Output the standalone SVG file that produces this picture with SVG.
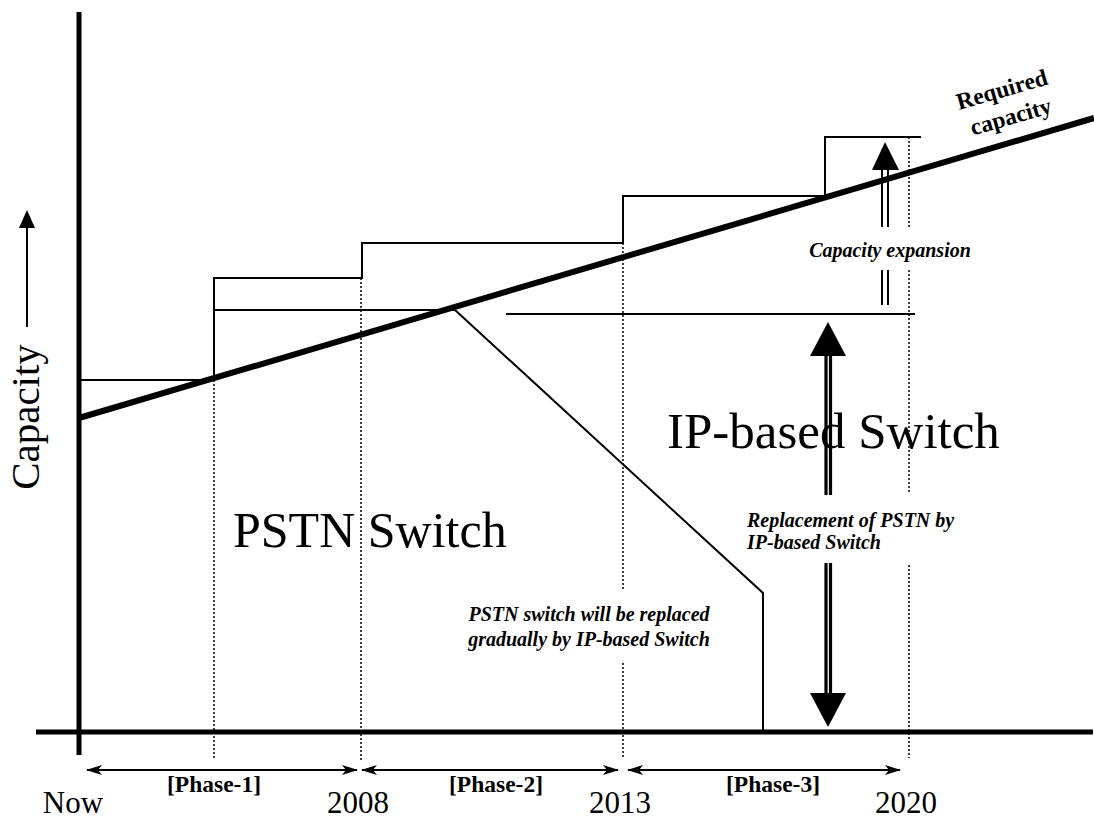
<svg xmlns="http://www.w3.org/2000/svg" width="1094" height="821" viewBox="0 0 1094 821">
<style>
.ax{stroke:#000;stroke-width:5;fill:none}
.req{stroke:#000;stroke-width:6;fill:none}
.thin{stroke:#000;stroke-width:2;fill:none}
.dot{stroke:#000;stroke-width:1.5;stroke-dasharray:2 2;fill:none}
.ph{stroke:#000;stroke-width:2;fill:none}
.big{font-family:"Liberation Serif","Times New Roman",serif;fill:#000}
.lab{font-family:"Liberation Serif","Times New Roman",serif;font-weight:bold;font-style:italic;font-size:20px;fill:#000}
.phase{font-family:"Liberation Serif","Times New Roman",serif;font-weight:bold;font-size:23.5px;fill:#000;text-anchor:middle}
.yr{font-family:"Liberation Serif","Times New Roman",serif;font-size:31px;fill:#000;text-anchor:middle}
</style>
<defs>
<marker id="ah" viewBox="0 0 16 12" refX="15" refY="6" markerWidth="16" markerHeight="12" markerUnits="userSpaceOnUse" orient="auto-start-reverse">
<path d="M0,1 L16,6 L0,11 L4,6 Z" fill="#000"/>
</marker>
</defs>
<rect width="1094" height="821" fill="#fff"/>
<g id="axes">
<line class="ax" x1="79" y1="12" x2="79" y2="755"/>
<line class="ax" x1="36" y1="732" x2="1093" y2="732"/>
</g>
<g id="gridlines">
<line class="dot" x1="214" y1="380" x2="214" y2="760"/>
<line class="dot" x1="361" y1="278" x2="361" y2="760"/>
<line class="dot" x1="623" y1="243" x2="623" y2="590"/>
<line class="dot" x1="623" y1="663" x2="623" y2="758"/>
<line class="dot" x1="909" y1="137" x2="909" y2="227"/>
<line class="dot" x1="909" y1="270" x2="909" y2="493"/>
<line class="dot" x1="909" y1="565" x2="909" y2="758"/>
</g>
<g id="connectors">
<polyline class="thin" points="79,380 214,380 214,278 362,278 362,243 623,243 623,196 825,196 825,137 921,137"/>
<line class="thin" x1="214" y1="310" x2="455" y2="310"/>
<polyline class="thin" points="455,310 763,593 763,732"/>
<line class="thin" x1="506" y1="314" x2="915" y2="314"/>
<line class="req" x1="79" y1="418" x2="1094" y2="118"/>
<polygon points="885,142 872,170 899,170" fill="#000"/>
<line class="thin" x1="882" y1="168" x2="882" y2="227"/>
<line class="thin" x1="888" y1="168" x2="888" y2="227"/>
<line class="thin" x1="882" y1="270" x2="882" y2="305"/>
<line class="thin" x1="888" y1="270" x2="888" y2="305"/>
<polygon points="828,322 810,356 846,356" fill="#000"/>
<line stroke="#000" stroke-width="3.2" x1="826" y1="354" x2="826" y2="495"/>
<line stroke="#000" stroke-width="3.2" x1="830.5" y1="354" x2="830.5" y2="495"/>
<line stroke="#000" stroke-width="3.2" x1="826" y1="563" x2="826" y2="695"/>
<line stroke="#000" stroke-width="3.2" x1="830.5" y1="563" x2="830.5" y2="695"/>
<polygon points="828,727 810,693 846,693" fill="#000"/>
<line class="thin" x1="27" y1="327" x2="27" y2="222"/>
<polygon points="27,210 19,228 35,228" fill="#000"/>
<line class="ph" x1="87" y1="770" x2="357" y2="770" marker-start="url(#ah)" marker-end="url(#ah)"/>
<line class="ph" x1="362" y1="770" x2="618" y2="770" marker-start="url(#ah)" marker-end="url(#ah)"/>
<line class="ph" x1="628" y1="770" x2="900" y2="770" marker-start="url(#ah)" marker-end="url(#ah)"/>
</g>
<g id="labels">
<text class="big" font-size="41" text-anchor="middle" transform="translate(39,417) rotate(-90)">Capacity</text>
<text class="big" font-size="50" x="233" y="547">PSTN Switch</text>
<text class="big" font-size="51" x="667" y="448">IP-based Switch</text>
<text class="lab" x="890" y="257" text-anchor="middle">Capacity expansion</text>
<text class="lab" x="747" y="527">Replacement of PSTN by</text>
<text class="lab" x="747" y="549">IP-based Switch</text>
<text class="lab" x="589" y="621" text-anchor="middle">PSTN switch will be replaced</text>
<text class="lab" x="589" y="646" text-anchor="middle">gradually by IP-based Switch</text>
<text class="phase" font-size="23" transform="translate(1004,97) rotate(-16)">Required</text>
<text class="phase" font-size="22" transform="translate(1013,124) rotate(-16)">capacity</text>
<text class="phase" x="214" y="792">[Phase-1]</text>
<text class="phase" x="496" y="792">[Phase-2]</text>
<text class="phase" x="773" y="792">[Phase-3]</text>
<text class="yr" x="73" y="813">Now</text>
<text class="yr" x="358" y="813">2008</text>
<text class="yr" x="620" y="813">2013</text>
<text class="yr" x="906" y="813">2020</text>
</g>
</svg>
